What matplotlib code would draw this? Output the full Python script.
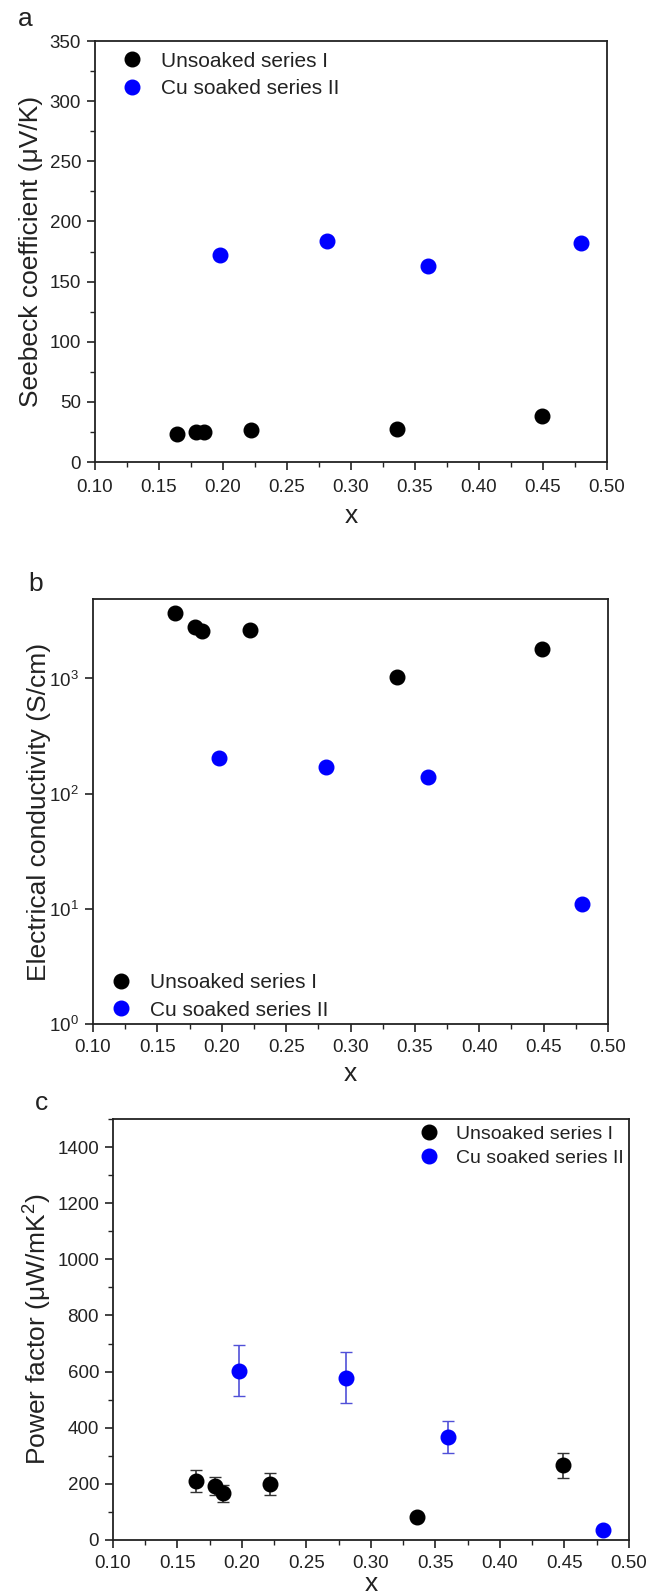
import numpy as np
import matplotlib
matplotlib.use("Agg")
import matplotlib.pyplot as plt
from matplotlib.ticker import MultipleLocator, FormatStrFormatter, NullLocator

plt.rcParams['font.family'] = ['Liberation Sans', 'DejaVu Sans']
plt.rcParams['mathtext.fontset'] = 'custom'
plt.rcParams['mathtext.rm'] = 'Liberation Sans'
plt.rcParams['mathtext.it'] = 'Liberation Sans:italic'
plt.rcParams['text.color'] = '#222222'
plt.rcParams['axes.labelcolor'] = '#222222'
plt.rcParams['xtick.color'] = '#222222'
plt.rcParams['ytick.color'] = '#222222'

# 数据
x_unsoaked = [0.164, 0.179, 0.185, 0.222, 0.336, 0.449]
x_soaked = [0.198, 0.281, 0.360, 0.480]

seebeck_unsoaked = [23.3, 25.3, 25.3, 27.0, 27.5, 37.9]
seebeck_soaked = [172.5, 184.0, 163.0, 182.3]

sigma_unsoaked = [3700, 2800, 2600, 2630, 1030, 1810]
sigma_soaked = [202, 171, 139, 11]

pf_unsoaked = [211, 193, 166, 199, 81, 266]
pf_unsoaked_err = [40, 33, 30, 38, 10, 45]
pf_soaked = [603, 578, 368, 34]
pf_soaked_err = [91, 90, 57, 5]

lab1 = "Unsoaked series I"
lab2 = "Cu soaked series II"
blue = '#0000ff'
ms = 10.5

fig = plt.figure(figsize=(6.5, 15.96), dpi=100)

def style(ax, labelpad=4, tickpad=5):
    ax.set_xlim(0.10, 0.50)
    ax.xaxis.set_major_locator(MultipleLocator(0.05))
    ax.xaxis.set_minor_locator(MultipleLocator(0.025))
    ax.xaxis.set_major_formatter(FormatStrFormatter('%.2f'))
    ax.tick_params(which='major', direction='out', length=6, width=1.2,
                   labelsize=13.5, pad=4)
    ax.tick_params(axis='x', which='major', pad=tickpad)
    ax.tick_params(which='minor', direction='out', length=3.5, width=1.0)
    for s in ax.spines.values():
        s.set_linewidth(1.3)
        s.set_color('#222222')
    ax.set_xlabel('x', fontsize=19, labelpad=labelpad)

#第一张图 Seebeck
ax1 = fig.add_axes([0.1462, 0.7105, 0.7877, 0.2638])
ax1.plot(x_unsoaked, seebeck_unsoaked, 'o', color='black', ms=ms, label=lab1)
ax1.plot(x_soaked, seebeck_soaked, 'o', color=blue, ms=ms, label=lab2)
style(ax1, labelpad=6, tickpad=6)
ax1.set_ylim(0, 350)
ax1.yaxis.set_major_locator(MultipleLocator(50))
ax1.yaxis.set_minor_locator(MultipleLocator(25))
ax1.set_ylabel('Seebeck coefficient (μV/K)', fontsize=19)
ax1.yaxis.set_label_coords(-0.102, 0.5)
ax1.legend(loc='upper left', frameon=False, fontsize=15, handlelength=0.8,
           handletextpad=1.0, borderpad=0, borderaxespad=0,
           bbox_to_anchor=(0.055, 0.975), labelspacing=0.4)

#第二张图 电导率
ax2 = fig.add_axes([0.1431, 0.3584, 0.7923, 0.2663])
ax2.plot(x_unsoaked, sigma_unsoaked, 'o', color='black', ms=ms, label=lab1)
ax2.plot(x_soaked, sigma_soaked, 'o', color=blue, ms=ms, label=lab2)
ax2.set_yscale('log')
style(ax2)
ax2.set_ylim(1, 4900)
ax2.yaxis.set_minor_locator(NullLocator())
ax2.set_ylabel('Electrical conductivity (S/cm)', fontsize=19)
ax2.yaxis.set_label_coords(-0.082, 0.5)
ax2.legend(loc='lower left', frameon=False, fontsize=15, handlelength=0.8,
           handletextpad=1.0, borderpad=0, borderaxespad=0,
           bbox_to_anchor=(0.038, 0.01), labelspacing=0.4)

#第三张图 功率因子
ax3 = fig.add_axes([0.1738, 0.0351, 0.7938, 0.2638])
ax3.errorbar(x_unsoaked, pf_unsoaked, yerr=pf_unsoaked_err, fmt='o', color='black',
             ms=ms, ecolor='#333333', elinewidth=1.2, capsize=4, label=lab1)
ax3.errorbar(x_soaked, pf_soaked, yerr=pf_soaked_err, fmt='o', color=blue,
             ms=ms, ecolor='#5050d8', elinewidth=1.2, capsize=4, label=lab2)
style(ax3, labelpad=0)
ax3.set_ylim(0, 1500)
ax3.yaxis.set_major_locator(MultipleLocator(200))
ax3.yaxis.set_minor_locator(MultipleLocator(100))
ax3.set_ylabel('Power factor (μW/mK$^{2}$)', fontsize=19)
ax3.yaxis.set_label_coords(-0.114, 0.5)
h, l = ax3.get_legend_handles_labels()
h = [hh[0] for hh in h]
ax3.legend(h, l, loc='upper left', frameon=False, fontsize=14, handlelength=0.8,
           handletextpad=1.0, borderpad=0, borderaxespad=0,
           bbox_to_anchor=(0.597, 0.985), labelspacing=0.35)

fig.text(25/650, 1 - 19/1596, 'a', fontsize=19, ha='center', va='center')
fig.text(36/650, 1 - 584/1596, 'b', fontsize=19, ha='center', va='center')
fig.text(42/650, 1 - 1103/1596, 'c', fontsize=19, ha='center', va='center')

fig.savefig('out.png', dpi=100)
